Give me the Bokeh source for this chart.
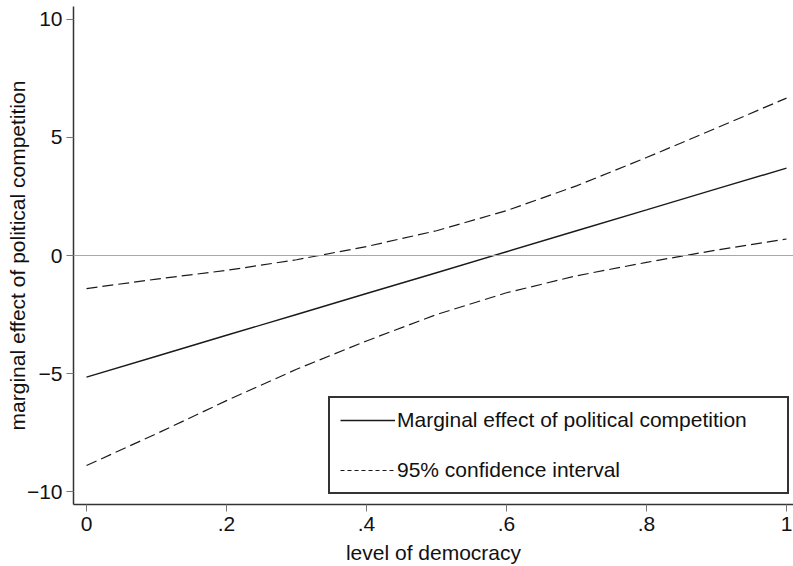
from bokeh.plotting import figure
from bokeh.models import (FixedTicker, CustomJSTickFormatter, Span, Legend, LegendItem,
                          ColumnDataSource, Range1d)
from bokeh.embed import file_html
from bokeh.resources import INLINE

# ---- data ----
democracy = [0.0, 0.1, 0.2, 0.3, 0.4, 0.5, 0.6, 0.7, 0.8, 0.9, 1.0]
marginal_effect = [-5.15, -4.27, -3.38, -2.50, -1.61, -0.73, 0.16, 1.05, 1.93, 2.82, 3.70]
ci_upper = [-1.40, -1.00, -0.63, -0.18, 0.38, 1.05, 1.90, 2.95, 4.15, 5.40, 6.67]
ci_lower = [-8.90, -7.55, -6.15, -4.82, -3.62, -2.50, -1.58, -0.86, -0.29, 0.23, 0.70]

x_ticks = [0.0, 0.2, 0.4, 0.6, 0.8, 1.0]
x_tick_labels = ["0", ".2", ".4", ".6", ".8", "1"]
y_ticks = [-10, -5, 0, 5, 10]
y_tick_labels = ["\u221210", "\u22125", "0", "5", "10"]

x_label = "level of democracy"
y_label = "marginal effect of political competition"
legend_labels = ["Marginal effect of political competition", "95% confidence interval"]

FONT = "Liberation Sans"
FS = "21px"

src = ColumnDataSource(dict(x=democracy, me=marginal_effect, up=ci_upper, lo=ci_lower))

p = figure(width=793, height=566, output_backend="svg", toolbar_location=None,
           x_range=Range1d(-0.0186, 1.01), y_range=Range1d(-10.55, 10.55),
           min_border_left=73, min_border_right=0, min_border_top=6, min_border_bottom=0)
p.outline_line_color = None
p.grid.visible = False
p.background_fill_color = "white"
p.border_fill_color = "white"

zero = Span(location=0, dimension="width", line_color="#a8a8a8", line_width=1)
p.add_layout(zero)

r_me = p.line("x", "me", source=src, line_color="#1a1a1a", line_width=1.4)
r_up = p.line("x", "up", source=src, line_color="#1a1a1a", line_width=1.2, line_dash="11 5")
r_lo = p.line("x", "lo", source=src, line_color="#1a1a1a", line_width=1.2, line_dash="11 5")
# legend sample with the short dashes seen in the key
r_key = p.line("x", "up", source=src, line_color="#1a1a1a", line_width=1.2, line_dash="4 3",
               visible=False)

p.xaxis.ticker = FixedTicker(ticks=x_ticks)
p.yaxis.ticker = FixedTicker(ticks=y_ticks)
code = "const i = vals.findIndex(v => Math.abs(v - tick) < 1e-9); return i >= 0 ? labs[i] : '';"
p.xaxis.formatter = CustomJSTickFormatter(args=dict(vals=x_ticks, labs=x_tick_labels), code=code)
p.yaxis.formatter = CustomJSTickFormatter(args=dict(vals=y_ticks, labs=y_tick_labels), code=code)

for ax in (p.xaxis[0], p.yaxis[0]):
    ax.axis_line_color = "#333333"
    ax.axis_line_width = 1.5
    ax.major_tick_line_color = "#777777"
    ax.major_tick_line_width = 1
    ax.major_tick_out = 7
    ax.major_tick_in = 0
    ax.minor_tick_out = 0
    ax.minor_tick_in = 0
    ax.major_label_text_font = FONT
    ax.major_label_text_font_size = FS
    ax.major_label_text_color = "#111111"
    ax.axis_label_text_font = FONT
    ax.axis_label_text_font_size = FS
    ax.axis_label_text_font_style = "normal"
    ax.axis_label_text_color = "#111111"

p.xaxis.axis_label = x_label
p.yaxis.axis_label = y_label
p.xaxis.major_label_standoff = 5
p.xaxis.axis_label_standoff = 7
p.yaxis.major_label_standoff = 4
p.yaxis.axis_label_standoff = -5

legend = Legend(items=[LegendItem(label=legend_labels[0], renderers=[r_me]),
                       LegendItem(label=legend_labels[1], renderers=[r_key])],
                location=(255, 10), orientation="vertical",
                padding=10, spacing=26, margin=0,
                glyph_width=55, glyph_height=24, label_height=24, label_width=380,
                label_standoff=2,
                label_text_font=FONT, label_text_font_size=FS, label_text_color="#111111",
                border_line_color="#333333", border_line_width=2, border_line_alpha=1.0,
                background_fill_color="white", background_fill_alpha=1.0)
p.add_layout(legend)

open("out.html", "w").write(file_html(p, INLINE))
